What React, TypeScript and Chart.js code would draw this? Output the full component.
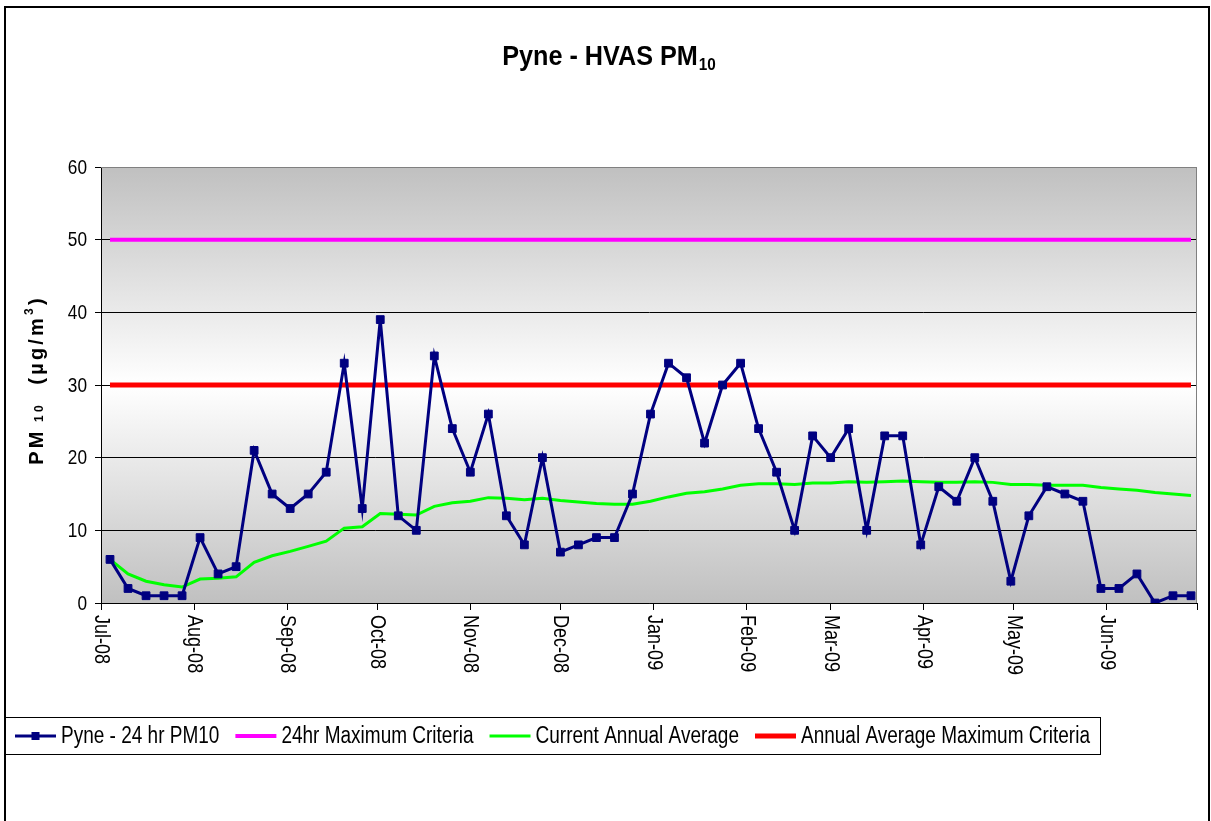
import React, { useEffect, useRef } from "react";
import { Chart, registerables } from "chart.js";

Chart.register(...registerables);

// ---------- data ----------
const sampleDates = [
  "2008-07-04", "2008-07-10", "2008-07-16", "2008-07-22", "2008-07-28",
  "2008-08-03", "2008-08-09", "2008-08-15", "2008-08-21", "2008-08-27",
  "2008-09-02", "2008-09-08", "2008-09-14", "2008-09-20", "2008-09-26",
  "2008-10-02", "2008-10-08", "2008-10-14", "2008-10-20", "2008-10-26",
  "2008-11-01", "2008-11-07", "2008-11-13", "2008-11-19", "2008-11-25",
  "2008-12-01", "2008-12-07", "2008-12-13", "2008-12-19", "2008-12-25", "2008-12-31",
  "2009-01-06", "2009-01-12", "2009-01-18", "2009-01-24", "2009-01-30",
  "2009-02-05", "2009-02-11", "2009-02-17", "2009-02-23",
  "2009-03-01", "2009-03-07", "2009-03-13", "2009-03-19", "2009-03-25", "2009-03-31",
  "2009-04-06", "2009-04-12", "2009-04-18", "2009-04-24", "2009-04-30",
  "2009-05-06", "2009-05-12", "2009-05-18", "2009-05-24", "2009-05-30",
  "2009-06-05", "2009-06-11", "2009-06-17", "2009-06-23", "2009-06-29",
];

const pm10Values = [
  6, 2, 1, 1, 1, 9, 4, 5, 21, 15,
  13, 15, 18, 33, 13, 39, 12, 10, 34, 24,
  18, 26, 12, 8, 20, 7, 8, 9, 9, 15,
  26, 33, 31, 22, 30, 33, 24, 18, 10, 23,
  20, 24, 10, 23, 23, 8, 16, 14, 20, 14,
  3, 12, 16, 15, 14, 2, 2, 4, 0, 1,
  1,
];

const annualAverageValues = [
  6.0, 4.0, 3.0, 2.5, 2.2, 3.3, 3.4, 3.6, 5.6, 6.5,
  7.1, 7.8, 8.5, 10.3, 10.5, 12.3, 12.2, 12.1, 13.3, 13.8,
  14.0, 14.5, 14.4, 14.2, 14.4, 14.1, 13.9, 13.7, 13.6, 13.6,
  14.0, 14.6, 15.1, 15.3, 15.7, 16.2, 16.4, 16.4, 16.3, 16.5,
  16.5, 16.7, 16.6, 16.7, 16.8, 16.7, 16.6, 16.6, 16.7, 16.6,
  16.3, 16.3, 16.2, 16.2, 16.2, 15.9, 15.7, 15.5, 15.2, 15.0,
  14.8,
];

const maxCriteria24hr = 50;
const annualAverageCriteria = 30;

const monthTickDates = [
  "2008-07-01", "2008-08-01", "2008-09-01", "2008-10-01", "2008-11-01", "2008-12-01",
  "2009-01-01", "2009-02-01", "2009-03-01", "2009-04-01", "2009-05-01", "2009-06-01",
  "2009-07-01",
];
const monthTickLabels = [
  "Jul-08", "Aug-08", "Sep-08", "Oct-08", "Nov-08", "Dec-08",
  "Jan-09", "Feb-09", "Mar-09", "Apr-09", "May-09", "Jun-09", "",
];

const yTicks = [0, 10, 20, 30, 40, 50, 60];

const seriesNames = [
  "Pyne - 24 hr PM10",
  "24hr Maximum Criteria",
  "Current Annual Average",
  "Annual Average Maximum Criteria",
];

// ---------- helpers ----------
const DAY_MS = 86400000;
const ORIGIN = Date.parse(monthTickDates[0] + "T00:00:00Z");
const toDay = (s: string) => (Date.parse(s + "T00:00:00Z") - ORIGIN) / DAY_MS;

const SANS = '"Liberation Sans", Arial, sans-serif';
const NARROW_X = 0.82; // horizontal squeeze to mimic a narrow face
const LEGEND_X = 0.826;

function drawScaled(ctx: any, text: string, x: number, y: number, sx: number) {
  ctx.save();
  ctx.translate(x, y);
  ctx.scale(sx, 1);
  ctx.fillText(text, 0, 0);
  ctx.restore();
}

const decorPlugin = {
  id: "decor",
  beforeDraw(chart: any) {
    const { ctx, chartArea, width, height } = chart;
    ctx.save();
    ctx.fillStyle = "#ffffff";
    ctx.fillRect(0, 0, width, height);
    const g = ctx.createLinearGradient(0, chartArea.top, 0, chartArea.bottom);
    g.addColorStop(0, "#c0c0c0");
    g.addColorStop(0.5, "#ffffff");
    g.addColorStop(1, "#c0c0c0");
    ctx.fillStyle = g;
    ctx.fillRect(chartArea.left, chartArea.top, chartArea.right - chartArea.left, chartArea.bottom - chartArea.top);
    ctx.strokeStyle = "#000";
    ctx.lineWidth = 2;
    ctx.strokeRect(5, 7, 1204, 900);
    ctx.restore();
  },
  beforeDatasetsDraw(chart: any) {
    const { ctx, chartArea } = chart;
    ctx.save();
    ctx.strokeStyle = "#808080";
    ctx.lineWidth = 1;
    ctx.beginPath();
    ctx.moveTo(chartArea.left, chartArea.top + 0.5);
    ctx.lineTo(chartArea.right - 0.5, chartArea.top + 0.5);
    ctx.lineTo(chartArea.right - 0.5, chartArea.bottom);
    ctx.stroke();
    ctx.restore();
  },
  afterDraw(chart: any) {
    const { ctx, chartArea } = chart;
    const xScale = chart.scales.x;
    const yScale = chart.scales.y;
    ctx.save();
    ctx.fillStyle = "#000";
    ctx.textAlign = "left";
    ctx.textBaseline = "alphabetic";

    // title
    const tMain = "Pyne - HVAS PM";
    const tSub = "10";
    const tsx = 0.9;
    ctx.font = "bold 28px " + SANS;
    const w1 = ctx.measureText(tMain).width * tsx;
    ctx.font = "bold 17px " + SANS;
    const w2 = ctx.measureText(tSub).width * tsx;
    const tx = 609 - (w1 + w2 + 1) / 2;
    ctx.font = "bold 28px " + SANS;
    drawScaled(ctx, tMain, tx, 65, tsx);
    ctx.font = "bold 17px " + SANS;
    drawScaled(ctx, tSub, tx + w1 + 1, 70, tsx);

    // y tick labels
    ctx.font = "21px " + SANS;
    ctx.textBaseline = "middle";
    yTicks.forEach((v) => {
      const py = yScale.getPixelForValue(v);
      const w = ctx.measureText(String(v)).width * NARROW_X;
      drawScaled(ctx, String(v), 87 - w, py + 1, NARROW_X);
    });
    ctx.textBaseline = "alphabetic";

    // y-axis title (rotated)
    const pieces = [
      { t: "PM", f: "bold 20px " + SANS, dy: 0 },
      { t: " 10", f: "bold 12px " + SANS, dy: 0 },
      { t: "  (µg/m", f: "bold 20px " + SANS, dy: 0 },
      { t: "3", f: "bold 12px " + SANS, dy: -10 },
      { t: ")", f: "bold 20px " + SANS, dy: 0 },
    ];
    const spacing = 3.2;
    let total = 0;
    const chars: { c: string; f: string; dy: number; w: number }[] = [];
    for (const p of pieces) {
      ctx.font = p.f;
      for (const c of p.t) {
        const w = ctx.measureText(c).width;
        chars.push({ c, f: p.f, dy: p.dy, w });
        total += w + spacing;
      }
    }
    ctx.save();
    ctx.translate(43, (chartArea.top + chartArea.bottom) / 2 - 5);
    ctx.rotate(-Math.PI / 2);
    let cx = -total / 2;
    for (const ch of chars) {
      ctx.font = ch.f;
      ctx.fillText(ch.c, cx, ch.dy);
      cx += ch.w + spacing;
    }
    ctx.restore();

    // x tick labels rotated clockwise
    ctx.font = "22px " + SANS;
    monthTickDates.forEach((d, i) => {
      const label = monthTickLabels[i];
      if (!label) return;
      const px = xScale.getPixelForValue(toDay(d));
      ctx.save();
      ctx.translate(px - 6, 615);
      ctx.rotate(Math.PI / 2);
      ctx.scale(NARROW_X, 1);
      ctx.fillText(label, 0, 0);
      ctx.restore();
    });

    // legend
    const ly = 736;
    ctx.strokeStyle = "#000";
    ctx.lineWidth = 1;
    ctx.strokeRect(4.5, 717.5, 1096, 37);
    let lx = 15;
    ctx.font = "23px " + SANS;
    ctx.textBaseline = "middle";
    chart.data.datasets.forEach((ds: any, i: number) => {
      ctx.strokeStyle = ds.borderColor;
      ctx.lineWidth = ds.borderWidth;
      ctx.beginPath();
      ctx.moveTo(lx, ly);
      ctx.lineTo(lx + 41, ly);
      ctx.stroke();
      if (i === 0) {
        ctx.fillStyle = ds.backgroundColor;
        ctx.fillRect(lx + 20.5 - 4, ly - 4, 8, 8);
      }
      ctx.fillStyle = "#000";
      drawScaled(ctx, ds.label, lx + 46, ly + 1, LEGEND_X);
      lx = lx + 46 + ctx.measureText(ds.label).width * LEGEND_X + 16;
    });

    ctx.restore();
  },
};

export default function App() {
  const canvasRef = useRef<HTMLCanvasElement | null>(null);

  useEffect(() => {
    if (!canvasRef.current) return;
    const firstDay = toDay(sampleDates[0]);
    const lastDay = toDay(sampleDates[sampleDates.length - 1]);
    const tickDays = monthTickDates.map(toDay);

    const chart = new Chart(canvasRef.current, {
      type: "line",
      data: {
        datasets: [
          {
            label: seriesNames[0],
            data: sampleDates.map((d, i) => ({ x: toDay(d), y: pm10Values[i] })),
            borderColor: "#000080",
            backgroundColor: "#000080",
            borderWidth: 3,
            pointStyle: "rect",
            pointRadius: 5.5,
            pointBorderWidth: 1,
            pointBackgroundColor: "#000080",
            pointBorderColor: "#000080",
            tension: 0,
          },
          {
            label: seriesNames[1],
            data: [
              { x: firstDay, y: maxCriteria24hr },
              { x: lastDay, y: maxCriteria24hr },
            ],
            borderColor: "#ff00ff",
            backgroundColor: "#ff00ff",
            borderWidth: 4,
            pointRadius: 0,
          },
          {
            label: seriesNames[2],
            data: sampleDates.map((d, i) => ({ x: toDay(d), y: annualAverageValues[i] })),
            borderColor: "#00ff00",
            backgroundColor: "#00ff00",
            borderWidth: 3,
            pointRadius: 0,
            tension: 0,
          },
          {
            label: seriesNames[3],
            data: [
              { x: firstDay, y: annualAverageCriteria },
              { x: lastDay, y: annualAverageCriteria },
            ],
            borderColor: "#ff0000",
            backgroundColor: "#ff0000",
            borderWidth: 5,
            pointRadius: 0,
          },
        ],
      },
      options: {
        animation: false,
        responsive: false,
        devicePixelRatio: 1,
        layout: { padding: { left: 0, top: 167, right: 14, bottom: 148 } },
        plugins: {
          legend: { display: false },
          title: { display: false },
          tooltip: { enabled: false },
        },
        scales: {
          x: {
            type: "linear",
            min: tickDays[0],
            max: tickDays[tickDays.length - 1],
            afterBuildTicks: (axis: any) => {
              axis.ticks = tickDays.map((v) => ({ value: v }));
            },
            afterFit: (axis: any) => {
              axis.height = 70;
            },
            ticks: { display: false },
            grid: {
              drawOnChartArea: false,
              drawTicks: true,
              tickLength: 7,
              color: "#000",
              lineWidth: 1,
            },
            border: { color: "#000", width: 1 },
          },
          y: {
            type: "linear",
            min: yTicks[0],
            max: yTicks[yTicks.length - 1],
            afterBuildTicks: (axis: any) => {
              axis.ticks = yTicks.map((v) => ({ value: v }));
            },
            afterFit: (axis: any) => {
              axis.width = 101;
            },
            ticks: { display: false },
            grid: {
              color: (c: any) => (c.tick && c.tick.value === 60 ? "#808080" : "#000"),
              tickColor: "#000",
              tickLength: 6,
              lineWidth: 1,
            },
            border: { color: "#000", width: 1 },
          },
        },
      },
      plugins: [decorPlugin],
    });
    return () => chart.destroy();
  }, []);

  return (
    <div style={{ position: "absolute", left: 0, top: 0, width: 1211, height: 821 }}>
      <canvas ref={canvasRef} width={1211} height={821} style={{ display: "block" }} />
    </div>
  );
}
